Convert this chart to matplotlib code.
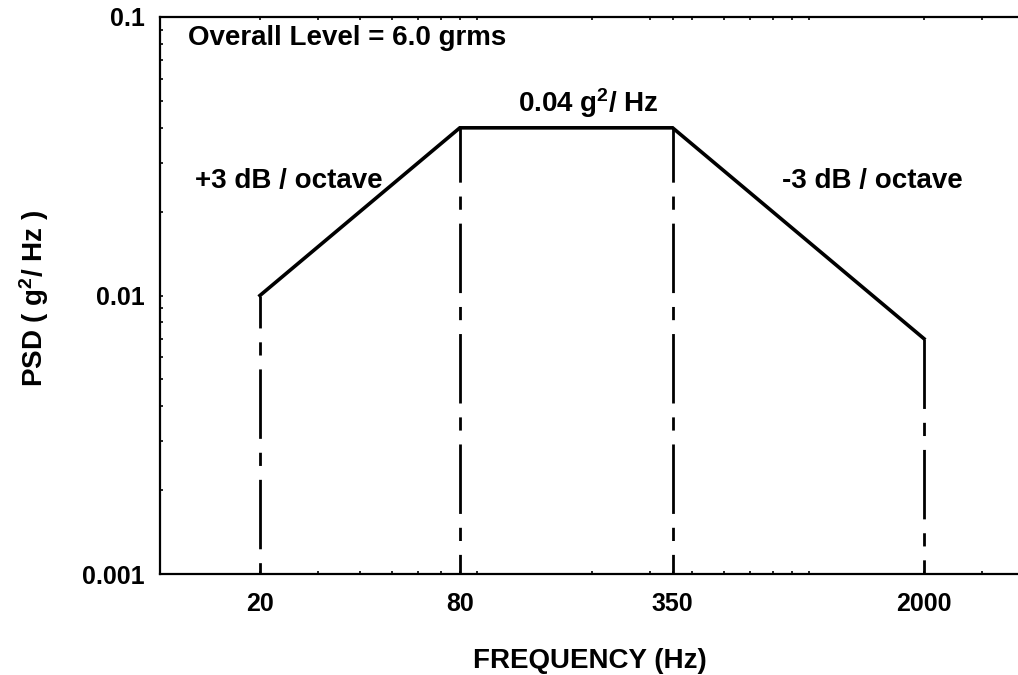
import matplotlib
matplotlib.use("Agg")
import matplotlib.pyplot as plt
from matplotlib.ticker import FixedLocator, LogLocator, NullFormatter

# 진동 프로파일 (PSD)
freq = [20, 80, 350, 2000]
psd = [0.01, 0.04, 0.04, 0.007]
freq_labels = ["20", "80", "350", "2000"]
y_ticks = [0.001, 0.01, 0.1]
y_labels = ["0.001", "0.01", "0.1"]

plt.rcParams['font.family'] = ['Liberation Sans', 'DejaVu Sans']
plt.rcParams['font.weight'] = 'bold'
plt.rcParams['mathtext.default'] = 'regular'
plt.rcParams['lines.scale_dashes'] = False

W, H = 1018, 675
fig = plt.figure(figsize=(W / 100, H / 100), dpi=100)
ax = fig.add_axes([160 / W, 1 - 574 / H, 996 / W, 557 / H])
ax.set_xscale('log')
ax.set_yscale('log')
ax.set_xlim(10, 10000)
ax.set_ylim(0.001, 0.1)

# 프로파일 선
ax.plot(freq, psd, color='black', linewidth=2.6, solid_joinstyle='miter')

# 수직 일점쇄선 (선마다 시작 위치가 조금 다름)
offsets = [27, 11, 11, 0]
for f, p, off in zip(freq, psd, offsets):
    ax.plot([f, f], [p, 0.001], color='black', linewidth=2.0,
            linestyle=(off, (50, 10, 9.5, 10)))

ax.xaxis.set_major_locator(FixedLocator(freq))
ax.set_xticklabels(freq_labels)
ax.xaxis.set_minor_locator(LogLocator(base=10, subs=range(2, 10)))
ax.xaxis.set_minor_formatter(NullFormatter())
ax.set_yticks(y_ticks)
ax.set_yticklabels(y_labels)
ax.yaxis.set_minor_formatter(NullFormatter())

ax.tick_params(which='both', direction='in', top=True, right=False,
               labelsize=18, width=1.2, length=2.5)
ax.tick_params(axis='x', which='major', pad=13)
ax.tick_params(axis='y', which='major', pad=11)

for s in ['left', 'bottom', 'top']:
    ax.spines[s].set_linewidth(1.6)
ax.spines['right'].set_visible(False)

fig.text(590 / W, 1 - 668 / H, 'FREQUENCY (Hz)', fontsize=20,
         fontweight='bold', ha='center', va='baseline')
fig.text(34 / W, 1 - 298 / H, 'PSD ( g$^2$/ Hz )', fontsize=20,
         fontweight='bold', rotation=90, ha='center', va='center')

fig.text(188 / W, 1 - 45 / H, 'Overall Level = 6.0 grms', fontsize=20,
         fontweight='bold', ha='left', va='baseline')
fig.text(588 / W, 1 - 112 / H, '0.04 g$^2$/ Hz', fontsize=20,
         fontweight='bold', ha='center', va='baseline')
fig.text(195 / W, 1 - 188 / H, '+3 dB / octave', fontsize=20,
         fontweight='bold', ha='left', va='baseline')
fig.text(782 / W, 1 - 188 / H, '-3 dB / octave', fontsize=20,
         fontweight='bold', ha='left', va='baseline')

fig.savefig('out.png', dpi=100)
